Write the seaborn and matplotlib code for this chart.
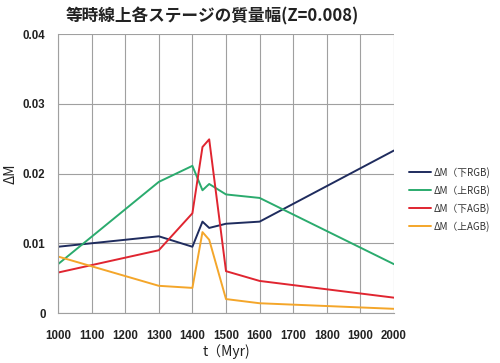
import matplotlib
matplotlib.use("Agg")
import matplotlib.pyplot as plt
import seaborn as sns
import pandas as pd

t_myr = [1000, 1300, 1400, 1430, 1450, 1500, 1600, 2000]
dm_lower_rgb = [0.0095, 0.0110, 0.0095, 0.0131, 0.0122, 0.0128, 0.0131, 0.0233]
dm_upper_rgb = [0.0070, 0.0188, 0.0211, 0.0176, 0.0185, 0.0170, 0.0165, 0.0070]
dm_lower_agb = [0.0058, 0.0090, 0.0143, 0.0238, 0.0249, 0.0060, 0.0046, 0.0022]
dm_upper_agb = [0.0081, 0.0039, 0.0036, 0.0116, 0.0105, 0.0020, 0.0014, 0.0006]
series_labels = ["ΔM（下RGB)", "ΔM（上RGB)", "ΔM（下AGB)", "ΔM（上AGB)"]
series_colors = ["#1f2c5e", "#2bab6e", "#e02530", "#f4a62a"]
title = "等時線上各ステージの質量幅(Z=0.008)"
xticks = [1000, 1100, 1200, 1300, 1400, 1500, 1600, 1700, 1800, 1900, 2000]
yticks = [0, 0.01, 0.02, 0.03, 0.04]
ytick_labels = ["0", "0.01", "0.02", "0.03", "0.04"]

sns.set_theme(style="white")
plt.rcParams["font.family"] = ["Noto Sans CJK JP", "DejaVu Sans"]

rows = []
for lab, vals in zip(series_labels, [dm_lower_rgb, dm_upper_rgb, dm_lower_agb, dm_upper_agb]):
    for t, v in zip(t_myr, vals):
        rows.append({"t": t, "dm": v, "series": lab})
df = pd.DataFrame(rows)

fig = plt.figure(figsize=(5, 3.63), dpi=100)
ax = fig.add_axes([0.116, 0.1377, 0.672, 0.7686])

sns.lineplot(data=df, x="t", y="dm", hue="series", palette=series_colors,
             hue_order=series_labels, linewidth=1.4, ax=ax, legend=True)

ax.set_xlim(1000, 2000)
ax.set_ylim(0, 0.04)
ax.set_xticks(xticks)
ax.set_yticks(yticks)
ax.set_yticklabels(ytick_labels)
ax.grid(True, color="#a0a0a0", linewidth=0.8)
ax.set_axisbelow(True)
for s in ["top", "right"]:
    ax.spines[s].set_visible(False)
for s in ["left", "bottom"]:
    ax.spines[s].set_color("#a0a0a0")
    ax.spines[s].set_linewidth(0.8)

ax.tick_params(axis="x", length=0, pad=12)
ax.tick_params(axis="y", length=0, pad=9)
for lbl in ax.get_xticklabels() + ax.get_yticklabels():
    lbl.set_fontfamily(["Liberation Sans", "DejaVu Sans"])
    lbl.set_fontweight("bold")
    lbl.set_fontsize(8.3)
    lbl.set_color("#222222")

ax.set_xlabel("t（Myr)", fontsize=10, labelpad=2, color="#222222")
ax.set_ylabel("ΔM", fontsize=10, labelpad=4, color="#222222")

fig.text(0.424, 0.955, title, ha="center", va="center", fontsize=12,
         fontweight="bold", color="#222222")

leg = ax.legend(loc="upper left", bbox_to_anchor=(1.02, 0.555), frameon=False,
                fontsize=7, handlelength=2.2, handletextpad=0.3, labelspacing=0.72)
for txt in leg.get_texts():
    txt.set_color("#333333")

fig.savefig("out.png", dpi=100, facecolor="white")
